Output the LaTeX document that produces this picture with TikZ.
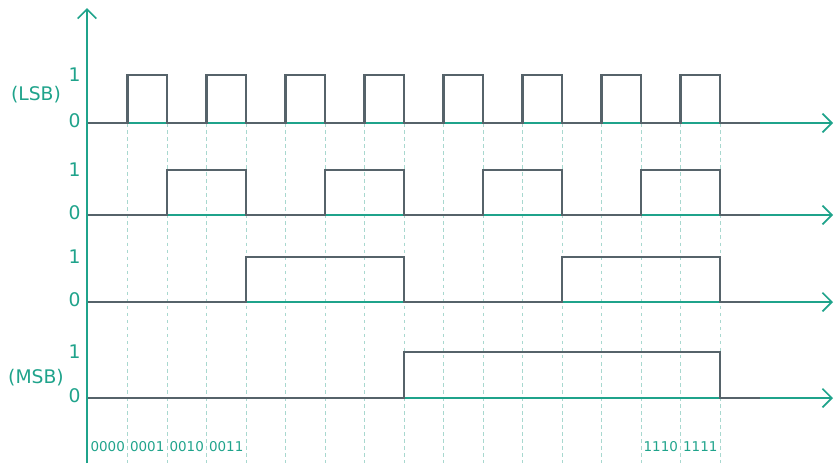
\documentclass[tikz,border=0pt]{standalone}
\usepackage{fontspec}
\setmainfont{DejaVu Sans}
\usetikzlibrary{arrows.meta}

\begin{document}
\begin{tikzpicture}[x=0.03cm, y=-0.03cm,
    axis/.style={axisColour, line width=1.4pt, -{Straight Barb[length=8pt, width=16pt]}},
    signal/.style={signalColour, line width=2.4pt},
    level/.style={text=axisColour, font=\fontsize{16}{18}\selectfont, anchor=east, inner sep=1pt},
    bits/.style={text=axisColour, font=\fontsize{11.5}{13}\selectfont, inner sep=0pt}]
    % Define colours
    \definecolor{axisColour}{HTML}{1FA38B}
    \definecolor{signalColour}{HTML}{56636A}
    \definecolor{gridColour}{HTML}{A8D8CF}

    % Define time scale
    \def\xStart{88}
    \def\xStep{39.5}
    \def\xEnd{833}

    \useasboundingbox (0,0) rectangle (835,463);

    % Draw dashed grid
    \foreach \i in {1,...,16}
        \draw[gridColour, dashed, thin] (\xStart+\i*\xStep,123) -- (\xStart+\i*\xStep,463);

    % Draw axes
    \draw[axis] (87,463) -- (87,8);
    \foreach \y in {123,215,302,398}
        \draw[axis] (87,\y) -- (\xEnd,\y);

    % Label levels
    \foreach \lo/\hi/\n in {123/75/a, 215/170/b, 302/257/c, 398/352/d} {
        \node[level] (one\n) at (82,\hi) {1};
        \node[level] (zero\n) at (82,\lo-2) {0};
    }
    \node[level, anchor=center] (lsb) at (36,95) {(LSB)};
    \node[level, anchor=center] (msb) at (36,378) {(MSB)};

    % Draw LSB
    \draw[signal] (\xStart,123) \foreach \i in {1,3,...,15} {
        -- (\xStart+\i*\xStep,123) -- (\xStart+\i*\xStep,75)
        -- (\xStart+\i*\xStep+\xStep,75) -- (\xStart+\i*\xStep+\xStep,123)
    } -- (760,123);

    % Draw second bit
    \draw[signal] (\xStart,215) \foreach \i in {2,6,10,14} {
        -- (\xStart+\i*\xStep,215) -- (\xStart+\i*\xStep,170)
        -- (\xStart+\i*\xStep+2*\xStep,170) -- (\xStart+\i*\xStep+2*\xStep,215)
    } -- (760,215);

    % Draw third bit
    \draw[signal] (\xStart,302) \foreach \i in {4,12} {
        -- (\xStart+\i*\xStep,302) -- (\xStart+\i*\xStep,257)
        -- (\xStart+\i*\xStep+4*\xStep,257) -- (\xStart+\i*\xStep+4*\xStep,302)
    } -- (760,302);

    % Draw MSB
    \draw[signal] (\xStart,398) -- (\xStart+8*\xStep,398) -- (\xStart+8*\xStep,352)
        -- (\xStart+16*\xStep,352) -- (\xStart+16*\xStep,398) -- (760,398);

    % Label counter values
    \foreach \i/\v in {0/0000, 1/0001, 2/0010, 3/0011, 14/1110, 15/1111}
        \node[bits] (v\v) at (\xStart+\i*\xStep+0.5*\xStep,447) {\v};

\end{tikzpicture}
\end{document}
